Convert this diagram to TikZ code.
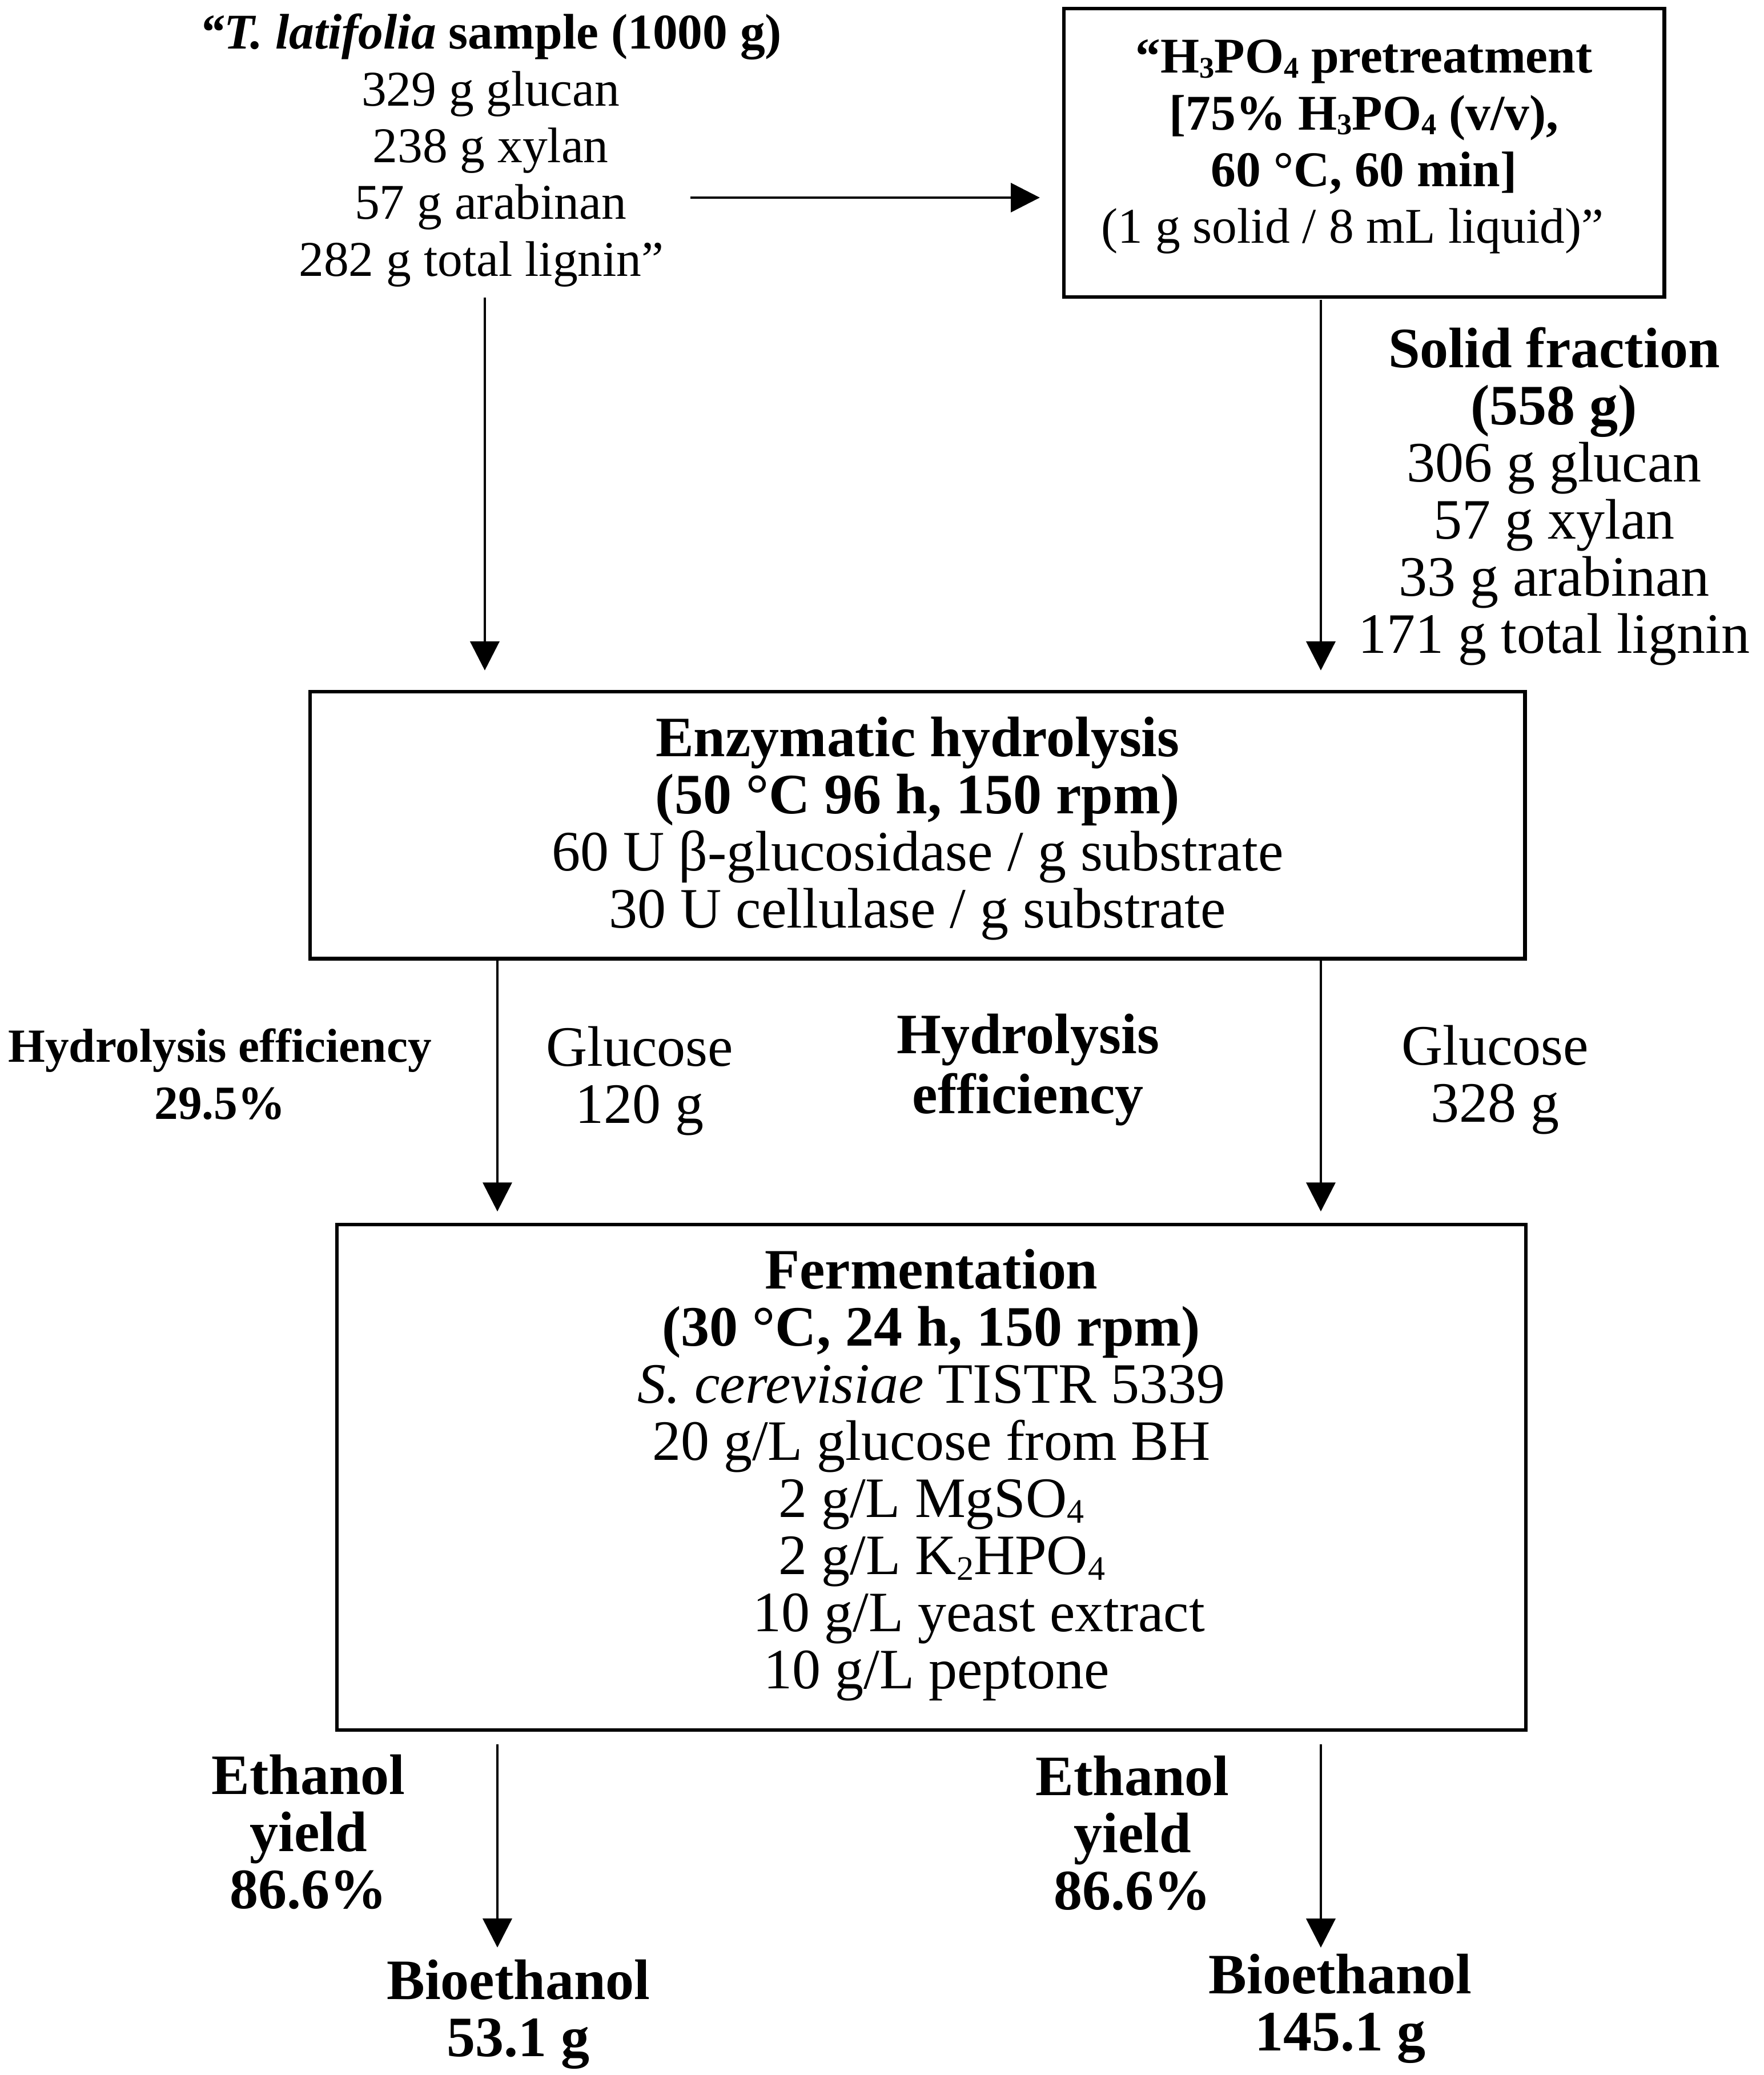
\documentclass[tikz,border=0pt]{standalone}
\usepackage{fontspec}
\setmainfont{Liberation Serif}
\usetikzlibrary{arrows.meta}
\newcommand{\sbs}[1]{\raisebox{-0.1em}{\scalebox{0.6}{#1}}}
\tikzset{
  txt/.style={inner sep=0pt, outer sep=0pt, align=center},
  big/.style={font=\fontsize{24}{24}\selectfont},
  bigb/.style={font=\fontsize{24}{24}\selectfont\bfseries},
  pal/.style={font=\fontsize{21}{23.85}\selectfont},
  smallb/.style={font=\fontsize{20}{24}\selectfont\bfseries},
  box/.style={draw, line width=1.6pt, inner sep=0pt, outer sep=0pt, align=center},
  arr/.style={-{Triangle[length=12.2pt,width=12.2pt]}, line width=1.05pt}
}
\begin{document}
\begin{tikzpicture}[x=0.5573pt, y=-0.5573pt]
\useasboundingbox (0,0) rectangle (1330,1564.6);

% text blocks
\node[txt,pal] (sample) at (370,114.0)
  {\strut\textbf{\textit{“T. latifolia}} \textbf{sample (1000 g)}\\
   329 g glucan\\238 g xylan\\57 g arabinan\\
   282 g total lignin”\hspace*{7.8pt}\strut};

\node[box,pal,minimum width=252.3pt,minimum height=121.2pt] (pre) at (1028.65,115.25)
  {\strut\textbf{“H\sbs{3}PO\sbs{4} pretreatment}\\
   \textbf{[75\% H\sbs{3}PO\sbs{4} (v/v),}\\
   \textbf{60 °C, 60 min]}\\
   (1 g solid / 8 mL liquid)”\hspace*{9.7pt}\rule[-12.23pt]{0pt}{12.23pt}};

\node[txt,big] (solid) at (1172,376.3)
  {\strut\textbf{Solid fraction}\\ \textbf{(558 g)}\\306 g glucan\\57 g xylan\\33 g arabinan\\171 g total lignin\strut};

\node[box,big,minimum width=510.6pt,minimum height=112.2pt] (enz) at (692,622.15)
  {\rule{0pt}{21.7pt}\textbf{Enzymatic hydrolysis}\\
   \textbf{(50 °C 96 h, 150 rpm)}\\
   60 U β-glucosidase / g substrate\\
   30 U cellulase / g substrate\strut};

\node[txt,smallb] (heL) at (165.8,813.9) {\strut Hydrolysis efficiency\\29.5\%\strut};
\node[txt,big] (glcL) at (482.5,816.9) {\strut Glucose\\120 g\strut};
\node[txt,bigb] (heR) at (775.3,808.4) {\strut Hydrolysis\\efficiency\strut};
\node[txt,big] (glcR) at (1127.5,815.9) {\strut Glucose\\328 g\strut};

\node[box,big,minimum width=499.7pt,minimum height=212.4pt] (ferm) at (702.4,1113.9)
  {\strut\textbf{Fermentation}\\
   \textbf{(30 °C, 24 h, 150 rpm)}\\
   \textit{S. cerevisiae} TISTR 5339\\
   20 g/L glucose from BH\\
   2 g/L MgSO\sbs{4}\\
   \hspace*{8.9pt}2 g/L K\sbs{2}HPO\sbs{4}\\
   \hspace*{40pt}10 g/L yeast extract\\
   \hspace*{4.5pt}10 g/L peptone\strut};

\node[txt,bigb] (ethL) at (232.6,1387.15) {\strut Ethanol\\yield\\86.6\%\strut};
\node[txt,bigb] (ethR) at (854,1388.15) {\strut Ethanol\\yield\\86.6\%\strut};
\node[txt,bigb] (bioL) at (391,1520.5) {\strut Bioethanol\\53.1 g\strut};
\node[txt,bigb] (bioR) at (1010.8,1516.1) {\strut Bioethanol\\145.1 g\strut};

% connectors
\coordinate (xS) at (365.6,0);
\coordinate (xL) at (375.1,0);
\coordinate (xR) at (996.1,0);
\coordinate (hs) at (520.7,149);

\draw[arr, shorten >=10.1pt] (hs) -- (pre.west |- hs);
\draw[arr, shorten <=1.8pt, shorten >=8.9pt] (sample.south -| xS) -- (enz.north -| xS);
\draw[arr, shorten <=1.1pt, shorten >=8.9pt] (pre.south -| xR) -- (enz.north -| xR);
\draw[arr, shorten >=5.5pt] (enz.south -| xL) -- (ferm.north -| xL);
\draw[arr, shorten >=5.5pt] (enz.south -| xR) -- (ferm.north -| xR);
\draw[arr, shorten <=6.1pt, shorten >=5.0pt] (ferm.south -| xL) -- (bioL.north -| xL);
\draw[arr, shorten <=6.1pt, shorten >=2.5pt] (ferm.south -| xR) -- (bioR.north -| xR);
\end{tikzpicture}
\end{document}
